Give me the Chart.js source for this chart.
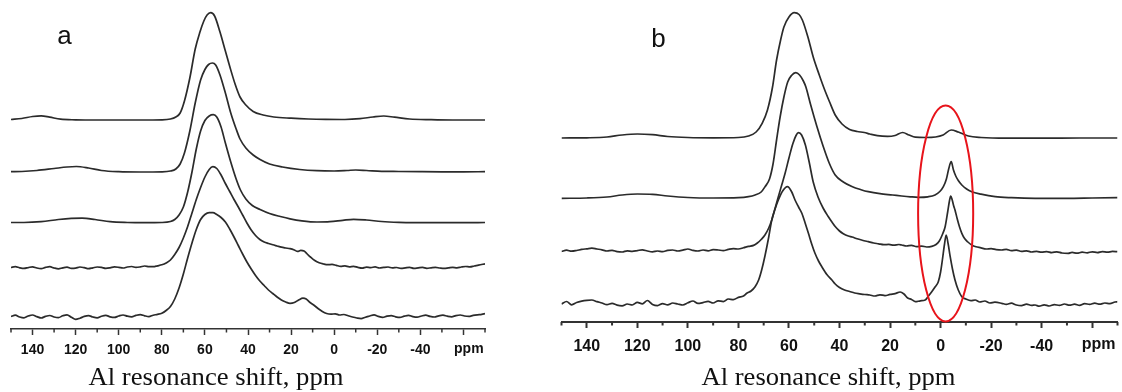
<!DOCTYPE html>
<html>
<head>
<meta charset="utf-8">
<script src="https://cdn.jsdelivr.net/npm/chart.js@4.4.1/dist/chart.umd.min.js"></script>
<style>
  html, body { margin: 0; padding: 0; background: #fff; }
  #wrap { position: relative; width: 1122px; height: 392px; overflow: hidden; }
  canvas { position: absolute; top: 0; }
  #chartA { left: 0; }
  #chartB { left: 550px; }
</style>
</head>
<body>
<div id="wrap">
  <canvas id="chartA" width="500" height="392"></canvas>
  <canvas id="chartB" width="572" height="392"></canvas>
</div>
<script>
// ppm axis, same for both panels
const majorTicks = [140, 120, 100, 80, 60, 40, 20, 0, -20, -40, -60];
const minorTicks = [150, 130, 110, 90, 70, 50, 30, 10, -10, -30, -50, -70];
const unitLabel = 'ppm';
const unitPpm = -62.5;
const axisTitle = 'Al resonance shift, ppm';

// ---- panel a (stacked spectra, top to bottom) ----
const aPpm1 = [150,145,140,136,132,127,120,110,100,90,80,76,73.5,71.5,69.5,67,64.5,62.3,60.5,59,57.3,55.5,53,50.5,48.4,46,43.7,41,37.6,33,28,20,12,4,-5,-12,-18,-23,-28,-35,-45,-55,-70];
const aVal1 = [209.5,210.5,212.5,213.2,211.8,209.8,209.2,209,209,209,209.2,210,212,216,228,251,280,297,308,314,316.3,313,297,278,262,245,232,224,217.5,214,212,210.8,210,209.6,209.5,210.3,212,213,211.8,210,209.3,209,209];

const aPpm2 = [150,145,138,130,124,119.7,114,108,100,90,80,76,73.5,71.5,69.5,67,64.5,62,60,58.3,56.5,55,53,50.5,48,45.5,43.7,41,37.6,34.4,30,24,16,8,0,-6,-10,-15,-22,-30,-40,-50,-60,-70];
const aVal2 = [157.3,157.5,158.5,160.5,162,162.5,161,158.5,157.3,157,157.2,158,160,165,176,198,226,249,259.5,264.5,266,264,254,236,216,200,190,181,174,169.5,165,162,159.5,158.3,158,158.5,159,158.5,157.7,157.5,157.3,157.2,157.2,157.3];

const aPpm3 = [150,144,136,128,122,117,111,104,96,88,80,76,74,72,70,68,66,64,62,60,58,56.1,54.5,52.5,50.5,48,45.5,43.5,41,38,34.4,30,25,20.5,15,8,2,-4,-9,-15,-22,-30,-40,-50,-60,-70];
const aVal3 = [106.5,106.5,107.3,109.5,110.6,110.8,109.5,107.3,106.5,106.3,106.5,107.5,109.5,114,122,137,157,180,198,208.5,213,214.3,212,202,186,167,150,139,130,123.5,119.5,115.5,112.5,110.2,108.2,107,107.3,108.7,109.7,109,107.5,106.7,106.4,106.3,106.3,106.5];

const aPpm4 = [150,148,146,144,142,140,138,136,134,132,130,128,126,124,122,120,118,116,114,112,110,108,106,104,102,100,98,96,94,92,90,88,86,84,82,80,78,76,74,72,70,68,66,64,62,60,58,56.3,54.5,52.5,50.5,48.5,46.5,44.5,42.5,40.5,38.5,36.5,34.5,32.5,30.5,28.5,26.5,24.5,22.5,20.5,18.5,17,15.5,14,12.5,11,9,7,5,3,1,-1,-3,-5,-7,-9,-11,-13,-15,-17,-19,-21,-23,-25,-27,-29,-31,-33,-35,-37,-39,-41,-43,-45,-47,-49,-51,-53,-55,-57,-59,-61,-63,-65,-67,-70];
const aVal4 = [61.5,62.3,61.2,60.6,61.4,62.2,61,60.4,61.6,62.3,61,60.2,61.1,61.8,60.6,60.9,62,61.3,60.3,61.2,62,61.6,60.7,61.2,62.1,61.7,61,62,62.5,61.6,62.1,63,62.4,62.3,63.2,64.2,66,69,74.5,81.5,91,102.5,116,129.5,141.5,152,159.5,162.3,160.5,154,145.5,137.5,129.5,122,114,106,99,93.5,89.5,87,85.5,84.2,83,81.8,81,80.3,79,77.6,78.6,78,75,72,68.5,66.2,65,64.3,64.6,63.6,62.6,63.1,62.2,62.7,61.6,60.9,61.9,61.4,62.1,61,61.6,62,61.1,61.5,60.6,61.1,61.6,60.6,61.1,61.6,60.7,61.2,61.6,61,60.6,61.1,61.7,61.2,62,62.5,62.1,63,63.8,65.2];

const aPpm5 = [150,148,146,144,142,140,138,136,134,132,130,128,126,124,122,120,118,116,114,112,110,108,106,104,102,100,98,96,94,92,90,88,86,84,82,80,78,76,74,72,70,68,66,64,62,60,58,56.3,54.5,52.5,50.5,48.5,46.5,44.5,42.5,40.5,38.5,36.5,34.5,32.5,30.5,28.5,26.5,24.5,22.5,20.5,18.5,16.5,14.5,13,11.5,9.5,7.5,5.5,3.5,1.5,-0.5,-2.5,-4.5,-6.5,-8.5,-10.5,-12.5,-14.5,-16.5,-18.5,-20.5,-22.5,-24.5,-26.5,-28.5,-30.5,-32.5,-34.5,-36.5,-38.5,-40.5,-42.5,-44.5,-46.5,-48.5,-50.5,-52.5,-54.5,-56.5,-58.5,-60.5,-62.5,-64.5,-66.5,-68.5,-70];
const aVal5 = [12.5,13.8,12,11.2,13,14,12.4,11,12.6,13.5,12,11.4,13.2,14.2,11.8,9.6,10.8,12.6,13.4,12,11.2,12.8,13.6,12.2,11.6,13,14,12.8,12.2,13.6,14.4,13.2,12.4,13.8,14.6,15.8,18.5,22.5,30,41,55,71,86,99.5,109.5,114.5,116.3,116.3,114.5,111.5,107,100,92,83.5,75,67,60,53.5,48,43.5,39,35.5,32,29,27,25.7,26.5,29,30.8,30,27,24,20.5,17.5,15.5,14.8,15.2,14,14.5,13.2,12,11,10.4,11.8,13,14.2,12.6,11.6,12.8,13.4,12.2,11.6,12.8,13.6,12.4,11.8,13,13.8,12.6,12,13.2,13.8,12.8,12.2,13.4,14,13,12.6,13.6,14.2,14.6,15.4];

// ---- panel b ----
const bPpm1 = [150,140,132,126,120,114,108,100,90,80,76,73,70.6,68.5,66.5,64.9,63.3,62,60,57.9,56,54.7,52.5,50.4,48,46,44,41.7,39,36,33,30.2,28,25,21,18,15,12.5,10,6,2,-1,-4.2,-7,-11,-16,-26,-40,-55,-70];
const bVal1 = [184,184.2,185,187,188,187.3,185.5,184.5,184.2,184.5,186,190,198.7,212,235,262,282,295,305,309.3,307.5,302,285,265,247,233,220.5,207,198,192.5,190.5,189.5,188,186.3,185.6,186.5,189.5,187,184.8,184.5,185,187,192,190,186,184.5,183.8,183.8,184,184];

const bPpm2 = [150,140,132,126,120,114,108,100,90,80,76,73.4,71,69.4,67.7,66.3,64.9,63.5,62,60.5,59,57.3,55.8,54.3,53.3,51.5,49,46.5,44,41.7,38.5,35.1,31.5,28.6,24,19,15.4,12,8.8,5,2.2,0.3,-1.1,-2.3,-3.2,-4.2,-5.1,-6,-7,-8.4,-10.3,-12.3,-16,-21.6,-28,-37.4,-50,-60,-70];
const bVal2 = [123.7,124,125,127,128,127.7,126,124.5,124,124.3,125.3,127,130,135.5,143,158,182,205,225,240,246.5,249.3,247,241,235,218,196,176,158.5,147,140,135.5,132.3,130.3,128.3,127,126,125.2,124.7,125.2,127,130.5,135.3,143,153,160.3,152,146,141.5,137,133,130.3,127.8,125.3,124.3,123.7,123.7,124,124.3];

const bPpm3 = [150,148,146,144,142,140,138,136,134,132,130,128,126,124,122,120,118,116,114,112,110,108,106,104,102,100,98,96,94,92,90,88,86,84,82,80,78,76,74,72.5,71,69.5,68,66.8,65.5,64.2,62.8,61.5,60,58.5,57.2,56.2,55,53.5,52,50.4,48.5,46.5,44.6,43,41.7,40,38.5,36.5,35,33,31,28.6,26.5,24.5,22.5,20.5,18.5,16.5,15.4,13.5,11.5,9.5,7.5,5.5,3.5,1.8,0.5,-0.8,-1.8,-2.8,-3.5,-4,-4.6,-5.2,-5.7,-6.6,-7.5,-8.4,-9.5,-10.8,-12.3,-14,-16,-18,-20,-22,-24.2,-26,-28,-30,-32,-34,-36,-38,-40,-42,-44,-46,-48,-50.5,-52,-54,-56,-58,-60,-62,-64,-66,-68,-70];
const bVal3 = [70.5,71.8,70.8,71.5,72.6,73.2,73.8,73,72.2,71,71.6,70.4,70,71.2,70.6,71.4,72.2,71,70.2,71,70.4,71.6,72,71,71.8,73,71.6,71,72,71.2,72.4,72,71.4,72.6,73.4,73,74.2,75.6,76.6,79,82.5,87,94,102,113.5,125.3,137.5,149,164,178,186.5,189.3,187,177,160,140,125,114,106,100,95.5,91,88.3,86,85,83.2,81.8,80.3,79,78.2,77.3,77.6,76.8,77.5,77,76,76.6,75.4,75.9,75,75.6,77.5,81,88,95.3,110,121,126,122,116,112,103,95,88.7,83.5,80,77,75.2,74.2,73,73.4,72.4,72,72.6,71.4,71.8,70.6,71.2,70,70.6,69.8,70.4,69.4,70.2,69,68.7,69.6,68.8,69.8,69.2,70.2,69.4,70.4,69.8,70.6,70.3];

const bPpm4 = [150,148,146,144,142,140,138,136,134,132,130,128,126,124,122,120,118,116,114,112,110,108,106,104,102,100,98,96,94,92,90,88,86,84,82,80,78,76.7,75,73.4,72,70.8,69.5,68,66.8,65.5,64.2,62.5,60.6,59,57.6,56.2,54.9,53.6,52.3,51,49.7,48.3,47,45,43,41.7,40,38,36,34,32,30,28,26,24,22,20,18,16,14.5,13,11.5,10,8,6.1,4.8,3.5,2.2,0.9,0,-0.7,-1.5,-2.2,-3,-3.8,-4.7,-5.7,-7,-8.4,-10,-12,-13.7,-15.5,-17.5,-19.5,-21.5,-24.2,-26,-28,-30,-32,-34,-36,-37.4,-39,-41,-43,-45,-47,-49,-51,-53,-55,-57,-59,-61,-63,-65,-67,-69,-70];
const bVal4 = [18,20.5,17.2,19.5,20.8,21.6,22,20.4,19,17.4,18.6,16.8,16.2,18,17,19.6,18.2,21.5,17.6,16.4,18.4,17.2,19,18,17,19.2,21,18.6,19.4,20.6,19,21.2,20.4,23,22.4,24.6,26,28.7,31,35.3,42,52,66,85,102,113,122,131,135.3,130.5,122,115,108.7,99,88.7,78,68.7,61,55.3,47.5,42,38,34.5,32,30.5,29,28.2,27.5,27,26,27.2,26.4,27.6,28.4,30,28,24,22.6,20.3,21.2,22,26,30.3,35,40.3,50,62,77,87,78,65.3,53,42,32,25.3,23,21.4,22,20,21,19,19.8,18.7,17.6,18.8,17,16.4,17.8,16.6,17,15.8,17.2,16,17.4,16.6,18,16.8,17.8,16.6,18.4,17.6,18.8,17.8,19,18.4,20,20.3];

// red ring around the octahedral Al signal in panel b
const ringPpm = -2;
const ringHalfWidth = 10.9;
const ringMid = 108.5;
const ringHalfHeight = 108;

// labels, ticks, title and ring drawn on top through the chart's scales
const decor = {
  id: 'decor',
  afterDatasetsDraw(chart, args, o) {
    const { ctx, scales: { x, y } } = chart;
    const base = x.top;
    ctx.save();
    ctx.strokeStyle = '#333';
    ctx.lineWidth = o.axisWidth;
    minorTicks.forEach(v => {
      const px = x.getPixelForValue(v);
      ctx.beginPath();
      ctx.moveTo(px, base);
      ctx.lineTo(px, base + 3.5);
      ctx.stroke();
    });

    if (o.ring) {
      const cx = x.getPixelForValue(ringPpm);
      const rx = Math.abs(x.getPixelForValue(ringPpm + ringHalfWidth) - cx);
      const cy = y.getPixelForValue(ringMid);
      const ry = Math.abs(y.getPixelForValue(ringMid + ringHalfHeight) - cy);
      ctx.strokeStyle = '#e8141b';
      ctx.lineWidth = 2;
      ctx.beginPath();
      ctx.ellipse(cx, cy, rx, ry, 0, 0, Math.PI * 2);
      ctx.stroke();
    }

    ctx.fillStyle = '#111';
    ctx.textAlign = 'center';
    ctx.textBaseline = 'top';
    ctx.font = `bold ${o.tickSize}px "Liberation Sans", Arial, sans-serif`;
    ctx.fillText(unitLabel, x.getPixelForValue(unitPpm), base + 6 + o.tickPad);

    ctx.textBaseline = 'alphabetic';
    ctx.font = '26px "Liberation Sans", Arial, sans-serif';
    ctx.fillText(o.letter, o.letterX, o.letterY);

    ctx.font = '25px "Liberation Serif", "Times New Roman", serif';
    const w = ctx.measureText(axisTitle).width;
    ctx.translate(o.titleX, 385);
    ctx.scale(o.titleWidth / w, 1);
    ctx.fillText(axisTitle, 0, 0);
    ctx.restore();
  }
};

function makePanel(id, traces, p) {
  const datasets = traces.map(([ppm, val]) => ({
    data: ppm.map((v, i) => ({ x: v, y: val[i] })),
    borderColor: '#2b2b2b',
    borderWidth: 1.7,
    pointRadius: 0,
    cubicInterpolationMode: 'monotone'
  }));

  return new Chart(document.getElementById(id), {
    type: 'line',
    data: { datasets },
    options: {
      responsive: false,
      animation: false,
      devicePixelRatio: 1,
      layout: { padding: { left: p.padLeft, right: p.padRight, top: 0, bottom: 0 } },
      plugins: { legend: { display: false }, tooltip: { enabled: false }, decor: p },
      scales: {
        x: {
          type: 'linear',
          reverse: true,
          min: -70,
          max: 150,
          afterBuildTicks: s => { s.ticks = majorTicks.map(v => ({ value: v })); },
          afterFit: s => { s.height = 392 - p.axisY; },
          border: { display: true, color: '#333', width: p.axisWidth },
          grid: { drawOnChartArea: false, drawTicks: true, tickLength: 6, color: '#333', tickColor: '#333', tickWidth: p.axisWidth },
          ticks: {
            callback: v => (v === -60 ? '' : v),
            color: '#111',
            font: { family: '"Liberation Sans", Arial, sans-serif', size: p.tickSize, weight: 'bold' },
            padding: p.tickPad,
            maxRotation: 0,
            autoSkip: false
          }
        },
        y: { display: false, min: 0, max: p.axisY }
      }
    },
    plugins: [decor]
  });
}

makePanel('chartA', [
  [aPpm1, aVal1],
  [aPpm2, aVal2],
  [aPpm3, aVal3],
  [aPpm4, aVal4],
  [aPpm5, aVal5]
], { axisY: 329, padLeft: 11, padRight: 15, axisWidth: 1.5, tickSize: 14, tickPad: 7,
     letter: 'a', letterX: 64.5, letterY: 44, titleX: 216, titleWidth: 255, ring: false });

makePanel('chartB', [
  [bPpm1, bVal1],
  [bPpm2, bVal2],
  [bPpm3, bVal3],
  [bPpm4, bVal4]
], { axisY: 322, padLeft: 11.5, padRight: 4.5, axisWidth: 2, tickSize: 16, tickPad: 9,
     letter: 'b', letterX: 108.5, letterY: 47, titleX: 278.5, titleWidth: 254, ring: true });
</script>
</body>
</html>
